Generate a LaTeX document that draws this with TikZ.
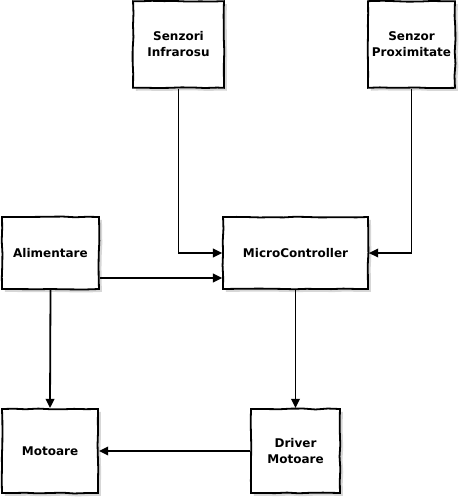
\documentclass[tikz,border=0pt]{standalone}
\usepackage{fontspec}
\setmainfont{DejaVu Sans}
\usetikzlibrary{arrows.meta,shadows,decorations.pathmorphing}
\begin{document}
\begin{tikzpicture}[x=0.75pt,y=-0.75pt,
  box/.style={draw=black, line width=1.35pt, fill=white, align=center,
    font=\bfseries\fontsize{9}{12}\selectfont, inner sep=0pt,
    decorate, decoration={random steps, segment length=9pt, amplitude=0.35pt},
    drop shadow={shadow xshift=2.2pt, shadow yshift=-2.2pt, fill=black!35, opacity=0.45}},
  arr/.style={draw=black, line width=1.35pt, -{Triangle[length=7pt,width=6.5pt]}}]
\useasboundingbox (0,0) rectangle (466,502);
\pgfmathsetseed{7}
\node[box, minimum width=68.2pt, minimum height=65pt] (inf) at (178.5,44.5) {Senzori\\Infrarosu};
\node[box, minimum width=65.2pt, minimum height=65pt] (prox) at (411.5,44.5) {Senzor\\Proximitate};
\node[box, minimum width=72.7pt, minimum height=54pt] (ali) at (50.5,253) {Alimentare};
\node[box, minimum width=108.7pt, minimum height=54pt] (mc) at (295.5,253) {MicroController};
\node[box, minimum width=72pt, minimum height=63pt] (mot) at (50,451) {Motoare};
\node[box, minimum width=66.7pt, minimum height=63pt] (drv) at (295.5,451) {Driver\\Motoare};
\draw[arr] (inf.south) |- (mc.west);
\draw[arr] (prox.south) |- (mc.east);
\draw[arr] ([yshift=-18.75pt]ali.east) -- ([yshift=-18.75pt]mc.west);
\draw[arr] (ali.south) -- (mot.north);
\draw[arr] (mc.south) -- (drv.north);
\draw[arr] (drv.west) -- (mot.east);
\end{tikzpicture}
\end{document}
